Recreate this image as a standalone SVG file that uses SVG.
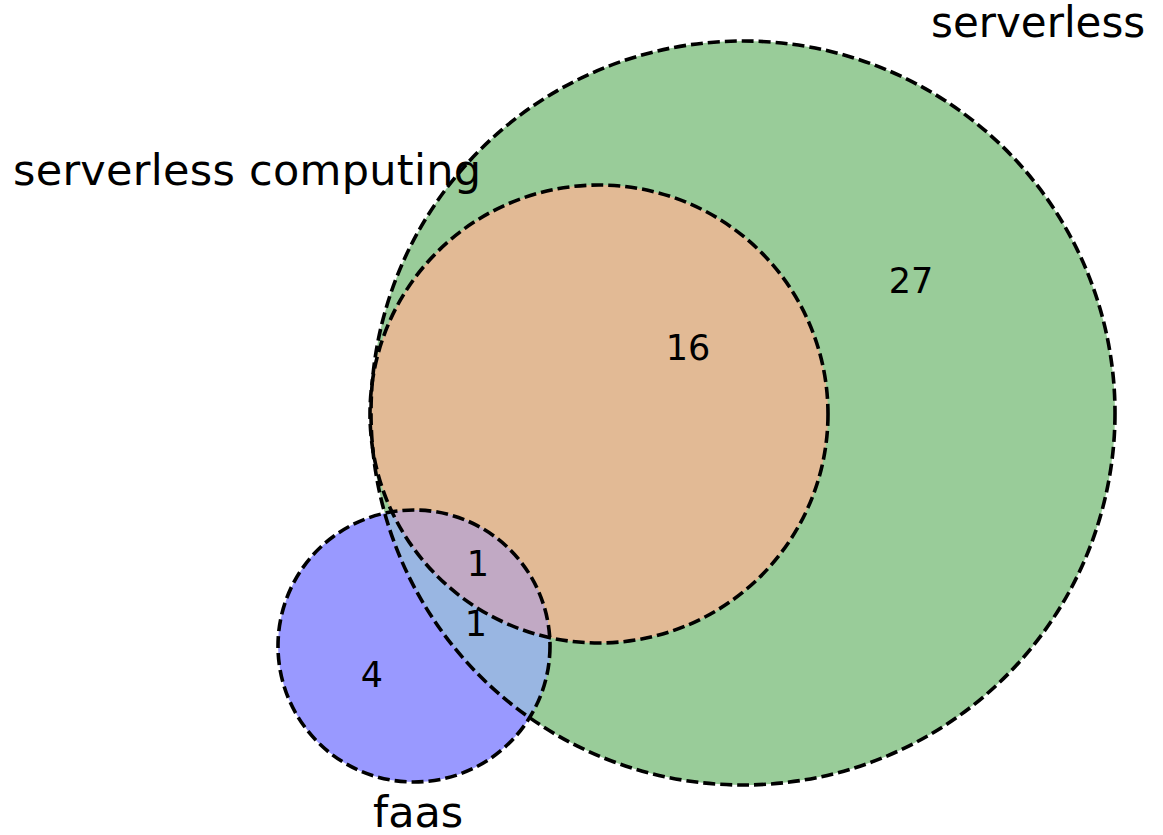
<svg xmlns="http://www.w3.org/2000/svg" width="1163" height="835" viewBox="0 0 1163 835">
<style>
.outline{fill:none;stroke:#000;stroke-width:3.6;stroke-dasharray:12 5}
.lbl{font-family:"DejaVu Sans",sans-serif;font-size:43px;fill:#000}
.num{font-family:"DejaVu Sans",sans-serif;font-size:35px;fill:#000;text-anchor:middle}
</style>
<defs>
<clipPath id="clipGreen"><circle cx="743" cy="413" r="372"/></clipPath>
<clipPath id="clipOrange"><circle cx="599" cy="414" r="229"/></clipPath>
</defs>
<g id="serverless">
<circle cx="743" cy="413" r="372" fill="#99cc99"/>
</g>
<g id="serverless-computing">
<circle cx="599" cy="414" r="229" fill="#e2ba95"/>
</g>
<g id="faas">
<circle cx="414" cy="646" r="136" fill="#9999ff"/>
<circle cx="414" cy="646" r="136" fill="#99b6e2" clip-path="url(#clipGreen)"/>
<circle cx="414" cy="646" r="136" fill="#c1a9c4" clip-path="url(#clipOrange)"/>
</g>
<g id="connectors">
<circle class="outline" cx="743" cy="413" r="372"/>
<circle class="outline" cx="599" cy="414" r="229"/>
<circle class="outline" cx="414" cy="646" r="136"/>
</g>
<g id="labels">
<text class="lbl" x="931" y="37" style="font-size:42px">serverless</text>
<text class="lbl" x="13" y="185" textLength="468">serverless computing</text>
<text class="lbl" x="373" y="827">faas</text>
<text class="num" x="911" y="293">27</text>
<text class="num" x="688" y="360">16</text>
<text class="num" x="478" y="576">1</text>
<text class="num" x="476" y="636">1</text>
<text class="num" x="372" y="687">4</text>
</g>
</svg>
